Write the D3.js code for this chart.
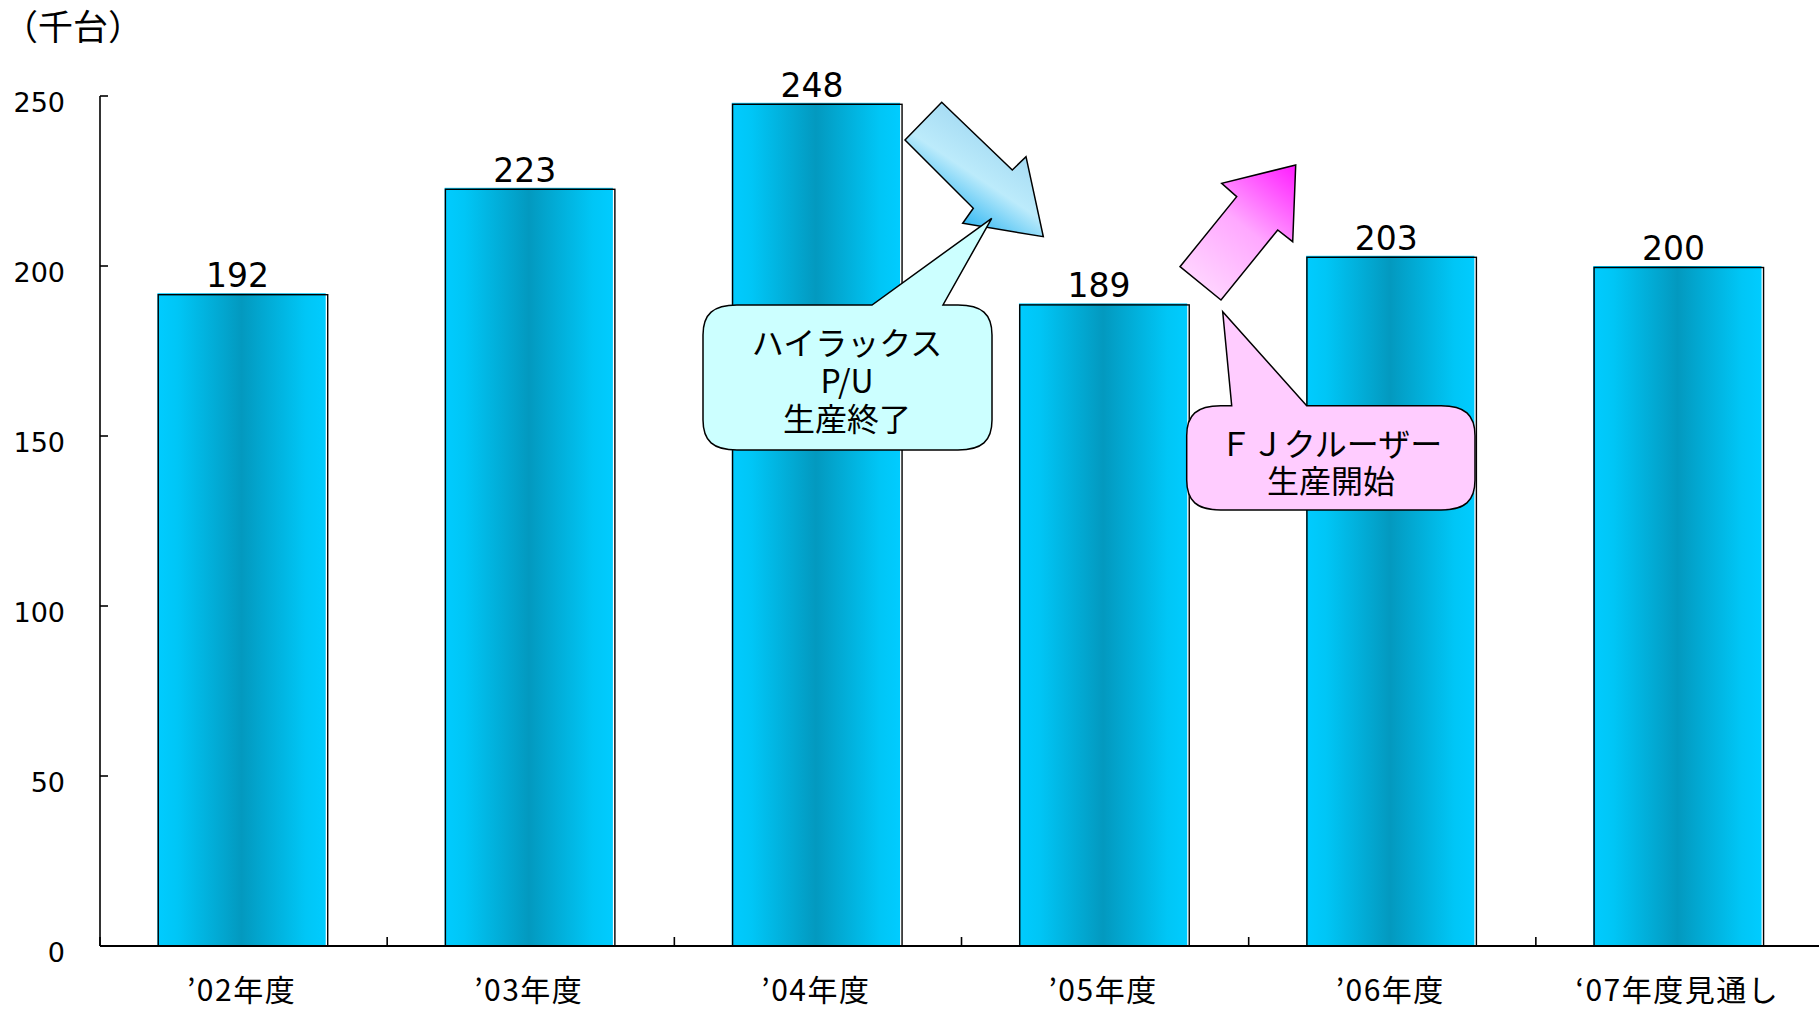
<!DOCTYPE html>
<html>
<head>
<meta charset="utf-8">
<script src="https://d3js.org/d3.v7.min.js"></script>
<style>
  html, body { margin: 0; padding: 0; background: #fff; }
  svg { display: block; }
  text { font-family: "Noto Sans CJK JP", "Noto Sans", sans-serif; fill: #000; }
</style>
</head>
<body>
<div id="chart"></div>
<script>
// data
var categories = ["’02年度", "’03年度", "’04年度", "’05年度", "’06年度", "‘07年度見通し"];
var values = [192, 223, 248, 189, 203, 200];
var yTicks = [0, 50, 100, 150, 200, 250];
var unitLabel = "（千台）";
var calloutDown = ["ハイラックス", "P/U", "生産終了"];
var calloutUp = ["ＦＪクルーザー", "生産開始"];

var width = 1820, height = 1009;
var margin = { top: 96, left: 100, right: 1, bottom: 63 };

var svg = d3.select("#chart").append("svg")
    .attr("width", width)
    .attr("height", height);

var defs = svg.append("defs");

var barGrad = defs.append("linearGradient")
    .attr("id", "barGrad")
    .attr("x1", "0%").attr("x2", "100%").attr("y1", "0%").attr("y2", "0%");
[[0, "#00CCFF"], [0.12, "#00C6F6"], [0.5, "#0399BF"], [0.88, "#00C6F6"], [1, "#00CCFF"]]
    .forEach(function(s) { barGrad.append("stop").attr("offset", s[0]).attr("stop-color", s[1]); });

var blueGrad = defs.append("linearGradient")
    .attr("id", "blueGrad").attr("gradientUnits", "userSpaceOnUse")
    .attr("x1", 960).attr("y1", 225).attr("x2", 1010).attr("y2", 150);
blueGrad.append("stop").attr("offset", 0).attr("stop-color", "#2EB6F2");
blueGrad.append("stop").attr("offset", 0.55).attr("stop-color", "#BCEBFB");
blueGrad.append("stop").attr("offset", 1).attr("stop-color", "#A8DDF4");

var pinkGrad = defs.append("linearGradient")
    .attr("id", "pinkGrad").attr("gradientUnits", "userSpaceOnUse")
    .attr("x1", 1200).attr("y1", 290).attr("x2", 1296).attr("y2", 170);
pinkGrad.append("stop").attr("offset", 0).attr("stop-color", "#FFD6FF");
pinkGrad.append("stop").attr("offset", 0.5).attr("stop-color", "#FFA8FF");
pinkGrad.append("stop").attr("offset", 1).attr("stop-color", "#FF22FF");

var x = d3.scaleBand()
    .domain(categories)
    .range([margin.left, width - margin.right])
    .paddingInner(0.414)
    .paddingOuter(0.2);

var y = d3.scaleLinear()
    .domain([0, 250])
    .range([height - margin.bottom, margin.top]);

var step = x.step();
var x0 = margin.left;

// bars
var bars = svg.selectAll(".bar")
    .data(values)
    .enter().append("g")
    .attr("class", "bar");

bars.append("rect")
    .attr("x", function(d, i) { return x(categories[i]); })
    .attr("y", function(d) { return y(d); })
    .attr("width", x.bandwidth())
    .attr("height", function(d) { return y(0) - y(d); })
    .attr("fill", "url(#barGrad)");

bars.append("rect")
    .attr("x", function(d, i) { return x(categories[i]) + 0.8; })
    .attr("y", function(d) { return y(d) + 1.5; })
    .attr("width", x.bandwidth() + 1.2)
    .attr("height", function(d) { return y(0) - y(d) - 1.5; })
    .attr("fill", "none")
    .attr("stroke", "#000")
    .attr("stroke-width", 1.4);

bars.append("text")
    .attr("x", function(d, i) { return x(categories[i]) + x.bandwidth() / 2 - 4; })
    .attr("y", function(d) { return y(d) - 6; })
    .attr("text-anchor", "middle")
    .style("font-family", "'DejaVu Sans', sans-serif")
    .style("font-size", "33px")
    .text(function(d) { return d; });

// y axis
svg.append("line")
    .attr("x1", x0).attr("x2", x0)
    .attr("y1", y(250)).attr("y2", y(0))
    .attr("stroke", "#000").attr("stroke-width", 1.6);

svg.selectAll(".ytick")
    .data(yTicks)
    .enter().append("line")
    .attr("x1", x0).attr("x2", x0 + 8)
    .attr("y1", function(d) { return y(d); })
    .attr("y2", function(d) { return y(d); })
    .attr("stroke", "#000").attr("stroke-width", 1.6);

svg.selectAll(".ylabel")
    .data(yTicks)
    .enter().append("text")
    .attr("x", 65)
    .attr("y", function(d) { return y(d) + 16; })
    .attr("text-anchor", "end")
    .style("font-family", "'DejaVu Sans', sans-serif")
    .style("font-size", "27px")
    .text(function(d) { return d; });

// x axis
svg.append("line")
    .attr("x1", x0).attr("x2", width - margin.right)
    .attr("y1", y(0)).attr("y2", y(0))
    .attr("stroke", "#000").attr("stroke-width", 2);

svg.selectAll(".xtick")
    .data(d3.range(categories.length + 1))
    .enter().append("line")
    .attr("x1", function(i) { return x0 + i * step; })
    .attr("x2", function(i) { return x0 + i * step; })
    .attr("y1", y(0)).attr("y2", y(0) - 9)
    .attr("stroke", "#000").attr("stroke-width", 1.6);

svg.selectAll(".xlabel")
    .data(categories)
    .enter().append("text")
    .attr("x", function(d) { return x(d) + x.bandwidth() / 2; })
    .attr("y", 1001)
    .attr("text-anchor", "middle")
    .style("font-size", "30px")
    .style("letter-spacing", "1.5px")
    .text(function(d) { return d; });

// unit label
svg.append("text")
    .attr("x", 3)
    .attr("y", 40)
    .style("font-size", "35px")
    .text(unitLabel);

// arrows
var blueArrow = [[941.7, 102.3], [1012.3, 170], [1026, 156.7], [1043.3, 236.7],
                 [962.7, 223.3], [973.3, 208.3], [905, 140]];
var pinkArrow = [[1295.7, 165], [1292.7, 241.7], [1277.7, 230], [1221, 300],
                 [1180, 266.7], [1236.7, 196.7], [1221.7, 183.3]];

svg.append("path")
    .attr("d", d3.line()(blueArrow) + "Z")
    .attr("fill", "url(#blueGrad)")
    .attr("stroke", "#000").attr("stroke-width", 1.5)
    .attr("stroke-linejoin", "miter");

svg.append("path")
    .attr("d", d3.line()(pinkArrow) + "Z")
    .attr("fill", "url(#pinkGrad)")
    .attr("stroke", "#000").attr("stroke-width", 1.5);

// callout bubbles
function bubble(l, t, r, b, rx, ry, p1, p2, tip) {
    var p = d3.path();
    p.moveTo(l + rx, t);
    p.lineTo(p1, t);
    p.lineTo(tip[0], tip[1]);
    p.lineTo(p2, t);
    p.lineTo(r - rx, t);
    p.bezierCurveTo(r - rx * 0.3, t, r, t + ry * 0.3, r, t + ry);
    p.lineTo(r, b - ry);
    p.bezierCurveTo(r, b - ry * 0.3, r - rx * 0.3, b, r - rx, b);
    p.lineTo(l + rx, b);
    p.bezierCurveTo(l + rx * 0.3, b, l, b - ry * 0.3, l, b - ry);
    p.lineTo(l, t + ry);
    p.bezierCurveTo(l, t + ry * 0.3, l + rx * 0.3, t, l + rx, t);
    p.closePath();
    return p.toString();
}

svg.append("path")
    .attr("d", bubble(703, 305, 992, 450, 34, 30, 872, 943, [991.7, 218.3]))
    .attr("fill", "#CCFFFF")
    .attr("stroke", "#000").attr("stroke-width", 1.5);

svg.selectAll(".c1")
    .data(calloutDown)
    .enter().append("text")
    .attr("x", 847)
    .attr("y", function(d, i) { return 355 + i * 38; })
    .attr("text-anchor", "middle")
    .style("font-size", "32px")
    .text(function(d) { return d; });

svg.append("path")
    .attr("d", bubble(1186.7, 405.7, 1475, 510, 34, 30, 1231.7, 1306.7, [1222.7, 311.7]))
    .attr("fill", "#FFCCFF")
    .attr("stroke", "#000").attr("stroke-width", 1.5);

svg.selectAll(".c2")
    .data(calloutUp)
    .enter().append("text")
    .attr("x", 1331)
    .attr("y", function(d, i) { return 456 + i * 37; })
    .attr("text-anchor", "middle")
    .style("font-size", "32px")
    .text(function(d) { return d; });
</script>
</body>
</html>
